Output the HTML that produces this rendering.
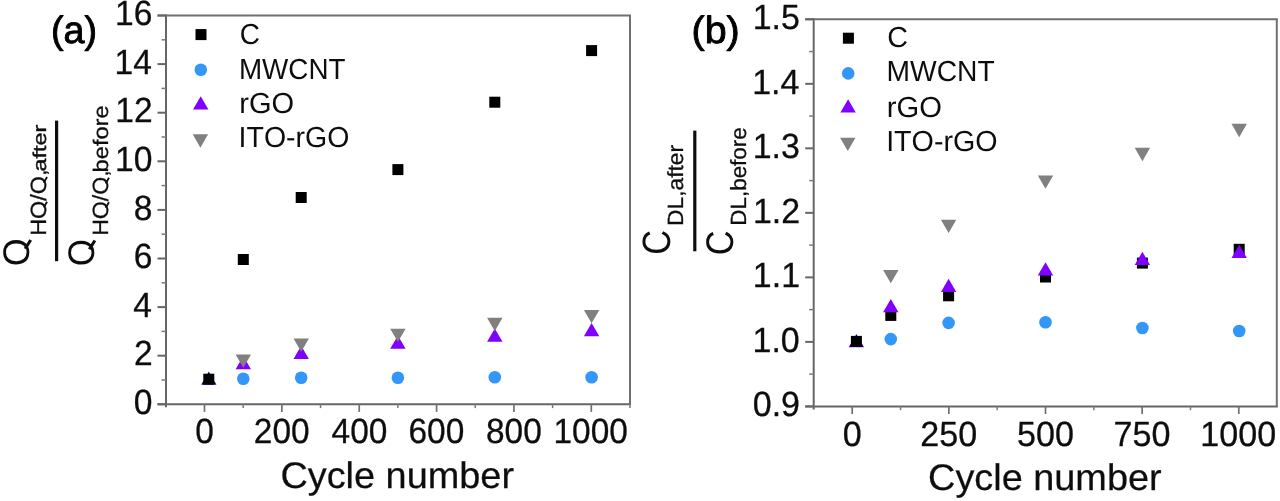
<!DOCTYPE html>
<html><head><meta charset="utf-8"><title>chart</title>
<style>
html,body{margin:0;padding:0;background:#fff;}
body{width:1280px;height:501px;overflow:hidden;}
svg{display:block;font-family:"Liberation Sans",sans-serif;font-kerning:none;text-rendering:geometricPrecision;}
</style></head><body>
<svg width="1280" height="501" viewBox="0 0 1280 501">
<rect width="1280" height="501" fill="#fff"/>
<defs><filter id="soft" x="0" y="0" width="100%" height="100%" filterUnits="userSpaceOnUse"><feGaussianBlur stdDeviation="0.5"/></filter></defs>
<g filter="url(#soft)">
<rect width="1280" height="501" fill="#fff"/>
<line x1="166.00" y1="14.50" x2="166.00" y2="407.30" stroke="#666" stroke-width="2.0"/>
<line x1="157.50" y1="404.30" x2="631.00" y2="404.30" stroke="#666" stroke-width="2.0"/>
<line x1="157.50" y1="15.50" x2="631.00" y2="15.50" stroke="#707070" stroke-width="2.0"/>
<line x1="630.00" y1="15.50" x2="630.00" y2="404.30" stroke="#707070" stroke-width="2.0"/>
<line x1="204.50" y1="404.30" x2="204.50" y2="411.90" stroke="#707070" stroke-width="1.7"/>
<text transform="translate(195.21,443.40) scale(0.9550,1)" font-size="35" stroke="#111" stroke-width="0.3" stroke-linejoin="round" fill="#111">0</text>
<line x1="281.86" y1="404.30" x2="281.86" y2="411.90" stroke="#707070" stroke-width="1.7"/>
<text transform="translate(253.79,443.40) scale(0.9550,1)" font-size="35" stroke="#111" stroke-width="0.3" stroke-linejoin="round" fill="#111">200</text>
<line x1="359.22" y1="404.30" x2="359.22" y2="411.90" stroke="#707070" stroke-width="1.7"/>
<text transform="translate(331.61,443.40) scale(0.9550,1)" font-size="35" stroke="#111" stroke-width="0.3" stroke-linejoin="round" fill="#111">400</text>
<line x1="436.58" y1="404.30" x2="436.58" y2="411.90" stroke="#707070" stroke-width="1.7"/>
<text transform="translate(408.50,443.40) scale(0.9550,1)" font-size="35" stroke="#111" stroke-width="0.3" stroke-linejoin="round" fill="#111">600</text>
<line x1="513.94" y1="404.30" x2="513.94" y2="411.90" stroke="#707070" stroke-width="1.7"/>
<text transform="translate(485.98,443.40) scale(0.9550,1)" font-size="35" stroke="#111" stroke-width="0.3" stroke-linejoin="round" fill="#111">800</text>
<line x1="591.30" y1="404.30" x2="591.30" y2="411.90" stroke="#707070" stroke-width="1.7"/>
<text transform="translate(553.50,443.40) scale(0.9550,1)" font-size="35" stroke="#111" stroke-width="0.3" stroke-linejoin="round" fill="#111">1000</text>
<line x1="243.18" y1="404.30" x2="243.18" y2="408.10" stroke="#7a7a7a" stroke-width="1.5"/>
<line x1="320.54" y1="404.30" x2="320.54" y2="408.10" stroke="#7a7a7a" stroke-width="1.5"/>
<line x1="397.90" y1="404.30" x2="397.90" y2="408.10" stroke="#7a7a7a" stroke-width="1.5"/>
<line x1="475.26" y1="404.30" x2="475.26" y2="408.10" stroke="#7a7a7a" stroke-width="1.5"/>
<line x1="552.62" y1="404.30" x2="552.62" y2="408.10" stroke="#7a7a7a" stroke-width="1.5"/>
<line x1="629.98" y1="404.30" x2="629.98" y2="408.10" stroke="#7a7a7a" stroke-width="1.5"/>
<line x1="157.50" y1="404.30" x2="166.00" y2="404.30" stroke="#666" stroke-width="2.0"/>
<text transform="translate(133.63,414.00) scale(0.9600,1)" font-size="35" stroke="#111" stroke-width="0.3" stroke-linejoin="round" fill="#111">0</text>
<line x1="157.50" y1="355.70" x2="166.00" y2="355.70" stroke="#666" stroke-width="2.0"/>
<text transform="translate(134.00,365.40) scale(0.9600,1)" font-size="35" stroke="#111" stroke-width="0.3" stroke-linejoin="round" fill="#111">2</text>
<line x1="157.50" y1="307.10" x2="166.00" y2="307.10" stroke="#666" stroke-width="2.0"/>
<text transform="translate(133.30,316.80) scale(0.9600,1)" font-size="35" stroke="#111" stroke-width="0.3" stroke-linejoin="round" fill="#111">4</text>
<line x1="157.50" y1="258.50" x2="166.00" y2="258.50" stroke="#666" stroke-width="2.0"/>
<text transform="translate(133.79,268.20) scale(0.9600,1)" font-size="35" stroke="#111" stroke-width="0.3" stroke-linejoin="round" fill="#111">6</text>
<line x1="157.50" y1="209.90" x2="166.00" y2="209.90" stroke="#666" stroke-width="2.0"/>
<text transform="translate(133.77,219.60) scale(0.9600,1)" font-size="35" stroke="#111" stroke-width="0.3" stroke-linejoin="round" fill="#111">8</text>
<line x1="157.50" y1="161.30" x2="166.00" y2="161.30" stroke="#666" stroke-width="2.0"/>
<text transform="translate(114.94,171.00) scale(0.9600,1)" font-size="35" stroke="#111" stroke-width="0.3" stroke-linejoin="round" fill="#111">10</text>
<line x1="157.50" y1="112.70" x2="166.00" y2="112.70" stroke="#666" stroke-width="2.0"/>
<text transform="translate(115.32,122.40) scale(0.9600,1)" font-size="35" stroke="#111" stroke-width="0.3" stroke-linejoin="round" fill="#111">12</text>
<line x1="157.50" y1="64.10" x2="166.00" y2="64.10" stroke="#666" stroke-width="2.0"/>
<text transform="translate(114.61,73.80) scale(0.9600,1)" font-size="35" stroke="#111" stroke-width="0.3" stroke-linejoin="round" fill="#111">14</text>
<line x1="157.50" y1="15.50" x2="166.00" y2="15.50" stroke="#666" stroke-width="2.0"/>
<text transform="translate(115.10,25.20) scale(0.9600,1)" font-size="35" stroke="#111" stroke-width="0.3" stroke-linejoin="round" fill="#111">16</text>
<line x1="161.50" y1="380.00" x2="166.00" y2="380.00" stroke="#7a7a7a" stroke-width="1.5"/>
<line x1="161.50" y1="331.40" x2="166.00" y2="331.40" stroke="#7a7a7a" stroke-width="1.5"/>
<line x1="161.50" y1="282.80" x2="166.00" y2="282.80" stroke="#7a7a7a" stroke-width="1.5"/>
<line x1="161.50" y1="234.20" x2="166.00" y2="234.20" stroke="#7a7a7a" stroke-width="1.5"/>
<line x1="161.50" y1="185.60" x2="166.00" y2="185.60" stroke="#7a7a7a" stroke-width="1.5"/>
<line x1="161.50" y1="137.00" x2="166.00" y2="137.00" stroke="#7a7a7a" stroke-width="1.5"/>
<line x1="161.50" y1="88.40" x2="166.00" y2="88.40" stroke="#7a7a7a" stroke-width="1.5"/>
<line x1="161.50" y1="39.80" x2="166.00" y2="39.80" stroke="#7a7a7a" stroke-width="1.5"/>
<text transform="translate(280.38,487.50) scale(1.0237,1)" font-size="37" stroke="#111" stroke-width="0.25" stroke-linejoin="round" fill="#111">Cycle number</text>
<text transform="translate(51.06,43.10) scale(0.9921,1)" font-size="38" stroke="#000" stroke-width="0.9" stroke-linejoin="round" fill="#000">(a)</text>
<rect x="195.50" y="29.10" width="11.0" height="11.0" fill="#000"/>
<circle cx="200.80" cy="69.80" r="6.3" fill="#3397f8"/>
<polygon points="193.00,109.55 208.40,109.55 200.70,96.25" fill="#8000ff"/>
<polygon points="192.70,134.35 208.10,134.35 200.40,147.65" fill="#808080"/>
<text transform="translate(239.78,43.90) scale(0.9638,1)" font-size="29" fill="#111">C</text>
<text transform="translate(238.92,78.50) scale(0.9594,1)" font-size="29" fill="#111">MWCNT</text>
<text transform="translate(239.27,113.00) scale(1.0008,1)" font-size="29" fill="#111">rGO</text>
<text transform="translate(238.57,147.20) scale(0.9826,1)" font-size="29" fill="#111">ITO-rGO</text>
<g transform="translate(29.40,266.30) rotate(-90) scale(0.9700,1)">
<text font-size="37" fill="#111">O</text>
<line x1="18.13" y1="-4.25" x2="27.20" y2="1.30" stroke="#111" stroke-width="3.03"/>
</g>
<g transform="translate(46.30,235.82) rotate(-90) scale(1.0639,1)">
<text font-size="22" fill="#111" stroke="#111" stroke-width="0.3">HO/O,</text>
<line x1="26.67" y1="-2.53" x2="32.06" y2="0.77" stroke="#111" stroke-width="1.80"/>
<line x1="49.89" y1="-2.53" x2="55.28" y2="0.77" stroke="#111" stroke-width="1.80"/>
</g>
<g transform="translate(46.00,171.50) rotate(-90) scale(1.2665,1)">
<text font-size="18.5" fill="#111" stroke="#111" stroke-width="0.4">after</text>
</g>
<rect x="55.0" y="120.6" width="3.2" height="140.6" fill="#111"/>
<g transform="translate(93.60,266.25) rotate(-90) scale(0.9423,1)">
<text font-size="37" fill="#111">O</text>
<line x1="18.13" y1="-4.25" x2="27.20" y2="1.30" stroke="#111" stroke-width="3.03"/>
</g>
<g transform="translate(108.20,235.79) rotate(-90) scale(1.0486,1)">
<text font-size="22" fill="#111" stroke="#111" stroke-width="0.3">HO/O,</text>
<line x1="26.67" y1="-2.53" x2="32.06" y2="0.77" stroke="#111" stroke-width="1.80"/>
<line x1="49.89" y1="-2.53" x2="55.28" y2="0.77" stroke="#111" stroke-width="1.80"/>
</g>
<g transform="translate(108.40,172.42) rotate(-90) scale(1.1265,1)">
<text font-size="21" fill="#111" stroke="#111" stroke-width="0.3">before</text>
</g>
<rect x="237.80" y="254.00" width="11.0" height="11.0" fill="#000"/>
<rect x="295.70" y="192.00" width="11.0" height="11.0" fill="#000"/>
<rect x="392.40" y="164.10" width="11.0" height="11.0" fill="#000"/>
<rect x="489.30" y="96.70" width="11.0" height="11.0" fill="#000"/>
<rect x="586.10" y="45.10" width="11.0" height="11.0" fill="#000"/>
<circle cx="243.30" cy="378.80" r="6.3" fill="#3397f8"/>
<circle cx="301.20" cy="377.80" r="6.3" fill="#3397f8"/>
<circle cx="397.90" cy="377.80" r="6.3" fill="#3397f8"/>
<circle cx="494.80" cy="377.20" r="6.3" fill="#3397f8"/>
<circle cx="591.60" cy="377.20" r="6.3" fill="#3397f8"/>
<polygon points="201.10,384.75 216.50,384.75 208.80,371.45" fill="#8000ff"/>
<polygon points="235.60,369.25 251.00,369.25 243.30,355.95" fill="#8000ff"/>
<polygon points="293.50,358.95 308.90,358.95 301.20,345.65" fill="#8000ff"/>
<polygon points="390.20,348.85 405.60,348.85 397.90,335.55" fill="#8000ff"/>
<polygon points="487.10,341.85 502.50,341.85 494.80,328.55" fill="#8000ff"/>
<polygon points="583.90,336.35 599.30,336.35 591.60,323.05" fill="#8000ff"/>
<polygon points="235.60,354.55 251.00,354.55 243.30,367.85" fill="#808080"/>
<polygon points="293.50,338.45 308.90,338.45 301.20,351.75" fill="#808080"/>
<polygon points="390.20,328.65 405.60,328.65 397.90,341.95" fill="#808080"/>
<polygon points="487.10,317.85 502.50,317.85 494.80,331.15" fill="#808080"/>
<polygon points="583.90,309.95 599.30,309.95 591.60,323.25" fill="#808080"/>
<polygon points="201.90,384.35 215.70,384.35 208.80,372.25" fill="#0c0018"/>
<rect x="203.30" y="373.70" width="11.0" height="11.0" fill="#000"/>
<line x1="813.70" y1="18.30" x2="813.70" y2="409.40" stroke="#666" stroke-width="2.0"/>
<line x1="805.20" y1="406.40" x2="1277.80" y2="406.40" stroke="#666" stroke-width="2.0"/>
<line x1="805.20" y1="19.30" x2="1277.80" y2="19.30" stroke="#707070" stroke-width="2.0"/>
<line x1="1276.80" y1="19.30" x2="1276.80" y2="406.40" stroke="#707070" stroke-width="2.0"/>
<line x1="852.20" y1="406.40" x2="852.20" y2="414.00" stroke="#707070" stroke-width="1.7"/>
<text transform="translate(842.71,445.70) scale(0.9750,1)" font-size="35" stroke="#111" stroke-width="0.3" stroke-linejoin="round" fill="#111">0</text>
<line x1="948.85" y1="406.40" x2="948.85" y2="414.00" stroke="#707070" stroke-width="1.7"/>
<text transform="translate(920.19,445.70) scale(0.9750,1)" font-size="35" stroke="#111" stroke-width="0.3" stroke-linejoin="round" fill="#111">250</text>
<line x1="1045.50" y1="406.40" x2="1045.50" y2="414.00" stroke="#707070" stroke-width="1.7"/>
<text transform="translate(1017.02,445.70) scale(0.9750,1)" font-size="35" stroke="#111" stroke-width="0.3" stroke-linejoin="round" fill="#111">500</text>
<line x1="1142.15" y1="406.40" x2="1142.15" y2="414.00" stroke="#707070" stroke-width="1.7"/>
<text transform="translate(1113.47,445.70) scale(0.9750,1)" font-size="35" stroke="#111" stroke-width="0.3" stroke-linejoin="round" fill="#111">750</text>
<line x1="1238.80" y1="406.40" x2="1238.80" y2="414.00" stroke="#707070" stroke-width="1.7"/>
<text transform="translate(1200.21,445.70) scale(0.9750,1)" font-size="35" stroke="#111" stroke-width="0.3" stroke-linejoin="round" fill="#111">1000</text>
<line x1="900.53" y1="406.40" x2="900.53" y2="410.20" stroke="#7a7a7a" stroke-width="1.5"/>
<line x1="997.18" y1="406.40" x2="997.18" y2="410.20" stroke="#7a7a7a" stroke-width="1.5"/>
<line x1="1093.83" y1="406.40" x2="1093.83" y2="410.20" stroke="#7a7a7a" stroke-width="1.5"/>
<line x1="1190.47" y1="406.40" x2="1190.47" y2="410.20" stroke="#7a7a7a" stroke-width="1.5"/>
<line x1="805.20" y1="406.40" x2="813.70" y2="406.40" stroke="#666" stroke-width="2.0"/>
<text transform="translate(752.81,416.10) scale(0.9700,1)" font-size="35" stroke="#111" stroke-width="0.3" stroke-linejoin="round" fill="#111">0.9</text>
<line x1="805.20" y1="341.88" x2="813.70" y2="341.88" stroke="#666" stroke-width="2.0"/>
<text transform="translate(752.53,351.58) scale(0.9700,1)" font-size="35" stroke="#111" stroke-width="0.3" stroke-linejoin="round" fill="#111">1.0</text>
<line x1="805.20" y1="277.37" x2="813.70" y2="277.37" stroke="#666" stroke-width="2.0"/>
<text transform="translate(752.86,287.07) scale(0.9700,1)" font-size="35" stroke="#111" stroke-width="0.3" stroke-linejoin="round" fill="#111">1.1</text>
<line x1="805.20" y1="212.85" x2="813.70" y2="212.85" stroke="#666" stroke-width="2.0"/>
<text transform="translate(752.91,222.55) scale(0.9700,1)" font-size="35" stroke="#111" stroke-width="0.3" stroke-linejoin="round" fill="#111">1.2</text>
<line x1="805.20" y1="148.33" x2="813.70" y2="148.33" stroke="#666" stroke-width="2.0"/>
<text transform="translate(752.70,158.03) scale(0.9700,1)" font-size="35" stroke="#111" stroke-width="0.3" stroke-linejoin="round" fill="#111">1.3</text>
<line x1="805.20" y1="83.82" x2="813.70" y2="83.82" stroke="#666" stroke-width="2.0"/>
<text transform="translate(752.20,93.52) scale(0.9700,1)" font-size="35" stroke="#111" stroke-width="0.3" stroke-linejoin="round" fill="#111">1.4</text>
<line x1="805.20" y1="19.30" x2="813.70" y2="19.30" stroke="#666" stroke-width="2.0"/>
<text transform="translate(752.63,29.00) scale(0.9700,1)" font-size="35" stroke="#111" stroke-width="0.3" stroke-linejoin="round" fill="#111">1.5</text>
<line x1="809.20" y1="374.14" x2="813.70" y2="374.14" stroke="#7a7a7a" stroke-width="1.5"/>
<line x1="809.20" y1="309.62" x2="813.70" y2="309.62" stroke="#7a7a7a" stroke-width="1.5"/>
<line x1="809.20" y1="245.11" x2="813.70" y2="245.11" stroke="#7a7a7a" stroke-width="1.5"/>
<line x1="809.20" y1="180.59" x2="813.70" y2="180.59" stroke="#7a7a7a" stroke-width="1.5"/>
<line x1="809.20" y1="116.07" x2="813.70" y2="116.07" stroke="#7a7a7a" stroke-width="1.5"/>
<line x1="809.20" y1="51.56" x2="813.70" y2="51.56" stroke="#7a7a7a" stroke-width="1.5"/>
<text transform="translate(928.08,489.50) scale(1.0232,1)" font-size="37" stroke="#111" stroke-width="0.25" stroke-linejoin="round" fill="#111">Cycle number</text>
<text transform="translate(691.55,43.10) scale(1.0376,1)" font-size="38" stroke="#000" stroke-width="0.9" stroke-linejoin="round" fill="#000">(b)</text>
<rect x="842.90" y="32.70" width="11.0" height="11.0" fill="#000"/>
<circle cx="848.20" cy="73.40" r="6.3" fill="#3397f8"/>
<polygon points="840.40,112.55 855.80,112.55 848.10,99.25" fill="#8000ff"/>
<polygon points="840.10,137.75 855.50,137.75 847.80,151.05" fill="#808080"/>
<text transform="translate(887.34,46.90) scale(0.9910,1)" font-size="29" fill="#111">C</text>
<text transform="translate(886.48,80.80) scale(0.9733,1)" font-size="29" fill="#111">MWCNT</text>
<text transform="translate(886.86,116.80) scale(1.0066,1)" font-size="29" fill="#111">rGO</text>
<text transform="translate(886.16,150.90) scale(0.9881,1)" font-size="29" fill="#111">ITO-rGO</text>
<g transform="translate(670.00,254.75) rotate(-90) scale(0.8715,1)">
<text font-size="39.5" fill="#111">C</text>
</g>
<g transform="translate(683.40,225.97) rotate(-90) scale(1.0357,1)">
<text font-size="22" fill="#111" stroke="#111" stroke-width="0.3">DL,after</text>
</g>
<rect x="693.2" y="130.6" width="3.2" height="120.7" fill="#111"/>
<g transform="translate(732.80,255.34) rotate(-90) scale(0.8900,1)">
<text font-size="38.5" fill="#111">C</text>
</g>
<g transform="translate(745.90,225.64) rotate(-90) scale(1.0178,1)">
<text font-size="22" fill="#111" stroke="#111" stroke-width="0.3">DL,before</text>
</g>
<rect x="885.30" y="309.90" width="11.0" height="11.0" fill="#000"/>
<rect x="943.10" y="290.30" width="11.0" height="11.0" fill="#000"/>
<rect x="1040.00" y="271.50" width="11.0" height="11.0" fill="#000"/>
<rect x="1136.90" y="257.60" width="11.0" height="11.0" fill="#000"/>
<rect x="1233.70" y="243.80" width="11.0" height="11.0" fill="#000"/>
<circle cx="890.80" cy="339.10" r="6.3" fill="#3397f8"/>
<circle cx="948.60" cy="322.90" r="6.3" fill="#3397f8"/>
<circle cx="1045.50" cy="322.20" r="6.3" fill="#3397f8"/>
<circle cx="1142.40" cy="328.00" r="6.3" fill="#3397f8"/>
<circle cx="1239.20" cy="331.00" r="6.3" fill="#3397f8"/>
<polygon points="848.70,347.25 864.10,347.25 856.40,333.95" fill="#8000ff"/>
<polygon points="883.10,312.25 898.50,312.25 890.80,298.95" fill="#8000ff"/>
<polygon points="940.90,291.95 956.30,291.95 948.60,278.65" fill="#8000ff"/>
<polygon points="1037.80,275.45 1053.20,275.45 1045.50,262.15" fill="#8000ff"/>
<polygon points="1134.70,264.95 1150.10,264.95 1142.40,251.65" fill="#8000ff"/>
<polygon points="1231.50,257.95 1246.90,257.95 1239.20,244.65" fill="#8000ff"/>
<polygon points="883.10,270.05 898.50,270.05 890.80,283.35" fill="#808080"/>
<polygon points="940.90,219.75 956.30,219.75 948.60,233.05" fill="#808080"/>
<polygon points="1037.80,175.45 1053.20,175.45 1045.50,188.75" fill="#808080"/>
<polygon points="1134.70,147.85 1150.10,147.85 1142.40,161.15" fill="#808080"/>
<polygon points="1231.50,123.85 1246.90,123.85 1239.20,137.15" fill="#808080"/>
<polygon points="849.50,346.85 863.30,346.85 856.40,334.75" fill="#0c0018"/>
<rect x="850.90" y="335.90" width="11.0" height="11.0" fill="#000"/>
</g>
</svg>
</body></html>
